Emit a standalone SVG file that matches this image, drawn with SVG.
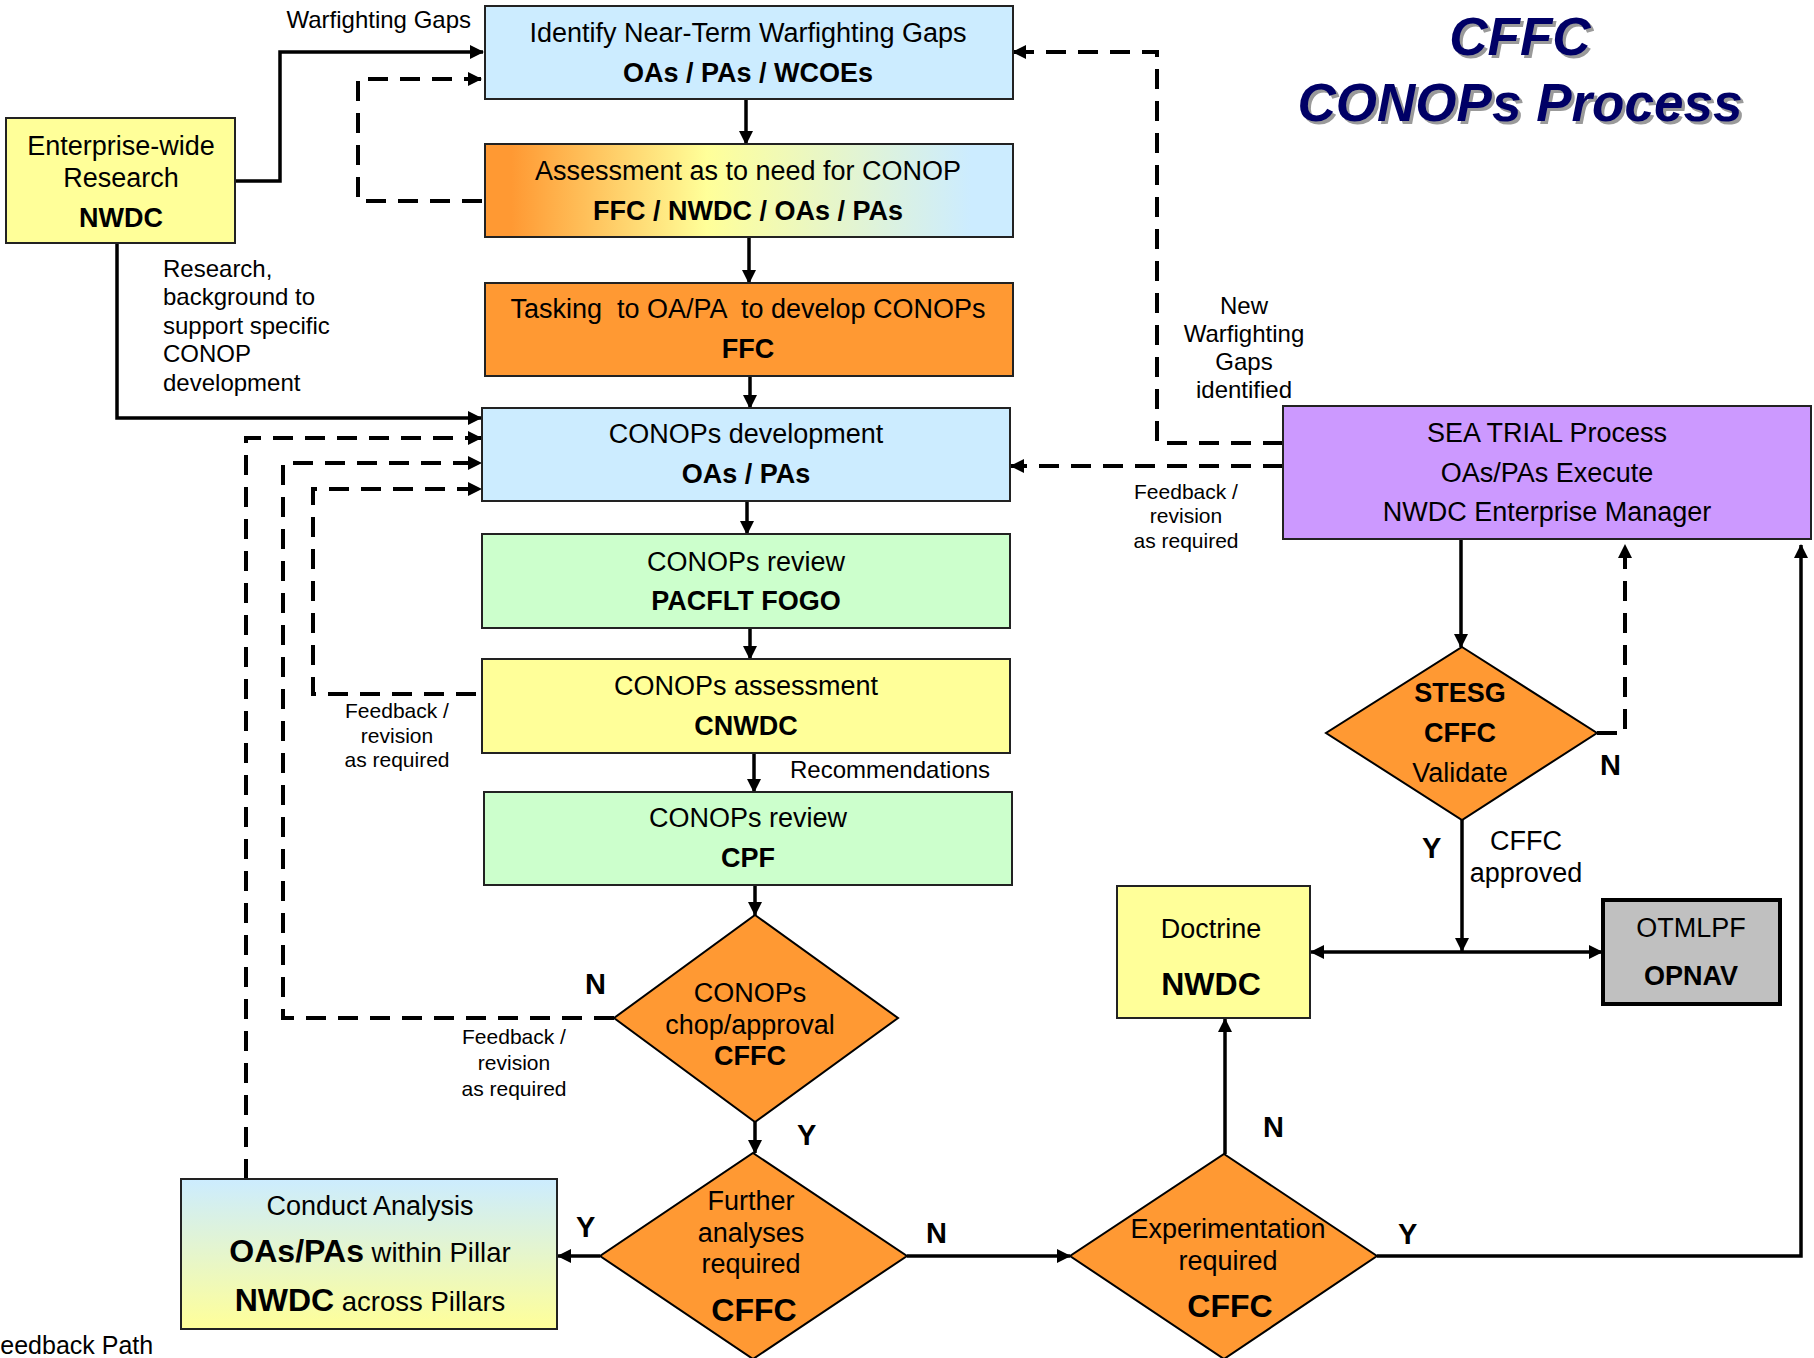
<svg xmlns="http://www.w3.org/2000/svg" width="1814" height="1358" viewBox="0 0 1814 1358">
<style>
text{font-family:"Liberation Sans",Arial,sans-serif;fill:#000}
.t26{font-size:27px}
.b26{font-size:27px;font-weight:bold}
.b31{font-size:32px;font-weight:bold}
.lbl{font-size:24px}
.sm{font-size:21px}
.yn{font-size:29px;font-weight:bold}
.c{text-anchor:middle}
.box{stroke:#222;stroke-width:2}
.dia{fill:#FF9933;stroke:#000;stroke-width:2}
.sol{fill:none;stroke:#000;stroke-width:3.5}
.dash{fill:none;stroke:#000;stroke-width:4;stroke-dasharray:20 12}
.title{font-size:53px;font-weight:bold;font-style:italic;text-anchor:middle}
</style>
<defs>
<marker id="ah" viewBox="0 0 14 14" refX="13" refY="7" markerWidth="14" markerHeight="14" markerUnits="userSpaceOnUse" orient="auto-start-reverse">
<path d="M0,0 L14,7 L0,14 z" fill="#000"/>
</marker>
<linearGradient id="gAssess" x1="0" y1="0" x2="1" y2="0">
<stop offset="0" stop-color="#FF9933"/>
<stop offset="0.05" stop-color="#FF9933"/>
<stop offset="0.42" stop-color="#FFFF99"/>
<stop offset="0.92" stop-color="#CCECFF"/>
<stop offset="1" stop-color="#CCECFF"/>
</linearGradient>
<linearGradient id="gConduct" x1="0" y1="0" x2="0" y2="1">
<stop offset="0" stop-color="#CCECFF"/>
<stop offset="1" stop-color="#FFFF99"/>
</linearGradient>
</defs>
<rect width="1814" height="1358" fill="#fff"/>

<g id="title">
<text class="title" x="1523" y="58" style="fill:#9a9a9a">CFFC</text>
<text class="title" x="1520" y="55" style="fill:#000066">CFFC</text>
<text class="title" x="1523" y="124" style="fill:#9a9a9a">CONOPs Process</text>
<text class="title" x="1520" y="121" style="fill:#000066">CONOPs Process</text>
</g>

<g id="connectors">
<!-- solid -->
<path class="sol" d="M235,181 H280 V52 H483" marker-end="url(#ah)"/>
<path class="sol" d="M117,243 V418 H481" marker-end="url(#ah)"/>
<path class="sol" d="M746,99 V144" marker-end="url(#ah)"/>
<path class="sol" d="M749,237 V283" marker-end="url(#ah)"/>
<path class="sol" d="M750,376 V408" marker-end="url(#ah)"/>
<path class="sol" d="M747,501 V534" marker-end="url(#ah)"/>
<path class="sol" d="M750,628 V659" marker-end="url(#ah)"/>
<path class="sol" d="M754,753 V792" marker-end="url(#ah)"/>
<path class="sol" d="M755,885 V915" marker-end="url(#ah)"/>
<path class="sol" d="M755,1122 V1153" marker-end="url(#ah)"/>
<path class="sol" d="M600,1256 H558" marker-end="url(#ah)"/>
<path class="sol" d="M907,1256 H1070" marker-end="url(#ah)"/>
<path class="sol" d="M1225,1154 V1019" marker-end="url(#ah)"/>
<path class="sol" d="M1377,1256 H1801 V545" marker-end="url(#ah)"/>
<path class="sol" d="M1461,539 V647" marker-end="url(#ah)"/>
<path class="sol" d="M1462,820 V951" marker-end="url(#ah)"/>
<path class="sol" d="M1311,952 H1602" marker-start="url(#ah)" marker-end="url(#ah)"/>
<!-- dashed -->
<path class="dash" d="M482,201 H358 V79 H481" marker-end="url(#ah)"/>
<path class="dash" d="M1283,443 H1157 V52 H1013" marker-end="url(#ah)"/>
<path class="dash" d="M1283,466 H1011" marker-end="url(#ah)"/>
<path class="dash" d="M246,1179 V438 H481" marker-end="url(#ah)"/>
<path class="dash" d="M614,1018 H283 V463 H481" marker-end="url(#ah)"/>
<path class="dash" d="M476,694 H313 V489 H481" marker-end="url(#ah)"/>
<path class="dash" d="M1597,733 H1625 V545" marker-end="url(#ah)"/>
</g>

<g id="connector-labels">
<text class="lbl" x="471" y="28" text-anchor="end">Warfighting Gaps</text>
<text class="lbl" x="163" y="277">Research,</text>
<text class="lbl" x="163" y="305">background to</text>
<text class="lbl" x="163" y="334">support specific</text>
<text class="lbl" x="163" y="362">CONOP</text>
<text class="lbl" x="163" y="391">development</text>
<text class="lbl c" x="1244" y="314">New</text>
<text class="lbl c" x="1244" y="342">Warfighting</text>
<text class="lbl c" x="1244" y="370">Gaps</text>
<text class="lbl c" x="1244" y="398">identified</text>
<text class="sm c" x="1186" y="499">Feedback /</text>
<text class="sm c" x="1186" y="523">revision</text>
<text class="sm c" x="1186" y="548">as required</text>
<text class="sm c" x="397" y="718">Feedback /</text>
<text class="sm c" x="397" y="743">revision</text>
<text class="sm c" x="397" y="767">as required</text>
<text class="sm c" x="514" y="1044">Feedback /</text>
<text class="sm c" x="514" y="1070">revision</text>
<text class="sm c" x="514" y="1096">as required</text>
<text class="lbl" x="790" y="778">Recommendations</text>
<text class="t26 c" x="1526" y="850">CFFC</text>
<text class="t26 c" x="1526" y="882">approved</text>
<text class="yn" x="585" y="994">N</text>
<text class="yn" x="797" y="1145">Y</text>
<text class="yn" x="576" y="1237">Y</text>
<text class="yn" x="926" y="1243">N</text>
<text class="yn" x="1263" y="1137">N</text>
<text class="yn" x="1398" y="1244">Y</text>
<text class="yn" x="1600" y="775">N</text>
<text class="yn" x="1422" y="858">Y</text>
<text x="-15" y="1354" style="font-size:25px">Feedback Path</text>
</g>

<g id="n-enterprise">
<rect class="box" x="6" y="118" width="229" height="125" fill="#FFFF99"/>
<text class="t26 c" x="121" y="155">Enterprise-wide</text>
<text class="t26 c" x="121" y="187">Research</text>
<text class="b26 c" x="121" y="227">NWDC</text>
</g>

<g id="n-identify">
<rect class="box" x="485" y="6" width="528" height="93" fill="#CCECFF"/>
<text class="t26 c" x="748" y="42">Identify Near-Term Warfighting Gaps</text>
<text class="b26 c" x="748" y="82">OAs / PAs / WCOEs</text>
</g>

<g id="n-assessment-need">
<rect class="box" x="485" y="144" width="528" height="93" fill="url(#gAssess)"/>
<text class="t26 c" x="748" y="180">Assessment as to need for CONOP</text>
<text class="b26 c" x="748" y="220">FFC / NWDC / OAs / PAs</text>
</g>

<g id="n-tasking">
<rect class="box" x="485" y="283" width="528" height="93" fill="#FF9933"/>
<text class="t26 c" x="748" y="318" xml:space="preserve">Tasking  to OA/PA  to develop CONOPs</text>
<text class="b26 c" x="748" y="358">FFC</text>
</g>

<g id="n-development">
<rect class="box" x="482" y="408" width="528" height="93" fill="#CCECFF"/>
<text class="t26 c" x="746" y="443">CONOPs development</text>
<text class="b26 c" x="746" y="483">OAs / PAs</text>
</g>

<g id="n-review-pacflt">
<rect class="box" x="482" y="534" width="528" height="94" fill="#CCFFCC"/>
<text class="t26 c" x="746" y="571">CONOPs review</text>
<text class="b26 c" x="746" y="610">PACFLT FOGO</text>
</g>

<g id="n-assessment-cnwdc">
<rect class="box" x="482" y="659" width="528" height="94" fill="#FFFF99"/>
<text class="t26 c" x="746" y="695">CONOPs assessment</text>
<text class="b26 c" x="746" y="735">CNWDC</text>
</g>

<g id="n-review-cpf">
<rect class="box" x="484" y="792" width="528" height="93" fill="#CCFFCC"/>
<text class="t26 c" x="748" y="827">CONOPs review</text>
<text class="b26 c" x="748" y="867">CPF</text>
</g>

<g id="n-chop">
<polygon class="dia" points="755,915 898,1018 755,1122 614,1018"/>
<text class="t26 c" x="750" y="1002">CONOPs</text>
<text class="t26 c" x="750" y="1034">chop/approval</text>
<text class="b26 c" x="750" y="1065">CFFC</text>
</g>

<g id="n-further">
<polygon class="dia" points="753,1153 907,1256 753,1359 600,1256"/>
<text class="t26 c" x="751" y="1210">Further</text>
<text class="t26 c" x="751" y="1242">analyses</text>
<text class="t26 c" x="751" y="1273">required</text>
<text class="b31 c" x="754" y="1321">CFFC</text>
</g>

<g id="n-conduct">
<rect class="box" x="181" y="1179" width="376" height="150" fill="url(#gConduct)"/>
<text class="t26 c" x="370" y="1215">Conduct Analysis</text>
<text class="c" x="370" y="1262"><tspan class="b31">OAs/PAs</tspan><tspan style="font-size:27.5px"> within Pillar</tspan></text>
<text class="c" x="370" y="1311"><tspan class="b31">NWDC</tspan><tspan style="font-size:27.5px"> across Pillars</tspan></text>
</g>

<g id="n-experimentation">
<polygon class="dia" points="1224,1154 1377,1256 1224,1359 1070,1256"/>
<text class="t26 c" x="1228" y="1238">Experimentation</text>
<text class="t26 c" x="1228" y="1270">required</text>
<text class="b31 c" x="1230" y="1317">CFFC</text>
</g>

<g id="n-doctrine">
<rect class="box" x="1117" y="886" width="193" height="132" fill="#FFFF99"/>
<text class="t26 c" x="1211" y="938">Doctrine</text>
<text class="b31 c" x="1211" y="995">NWDC</text>
</g>

<g id="n-otmlpf">
<rect x="1603" y="900" width="177" height="104" fill="#C0C0C0" stroke="#000" stroke-width="4"/>
<text class="t26 c" x="1691" y="937">OTMLPF</text>
<text class="b26 c" x="1691" y="985">OPNAV</text>
</g>

<g id="n-seatrial">
<rect class="box" x="1283" y="406" width="528" height="133" fill="#CC99FF"/>
<text class="t26 c" x="1547" y="442">SEA TRIAL Process</text>
<text class="t26 c" x="1547" y="482">OAs/PAs Execute</text>
<text class="t26 c" x="1547" y="521">NWDC Enterprise Manager</text>
</g>

<g id="n-stesg">
<polygon class="dia" points="1462,647 1597,733 1462,820 1326,733"/>
<text class="b26 c" x="1460" y="702">STESG</text>
<text class="b26 c" x="1460" y="742">CFFC</text>
<text class="t26 c" x="1460" y="782">Validate</text>
</g>
</svg>
